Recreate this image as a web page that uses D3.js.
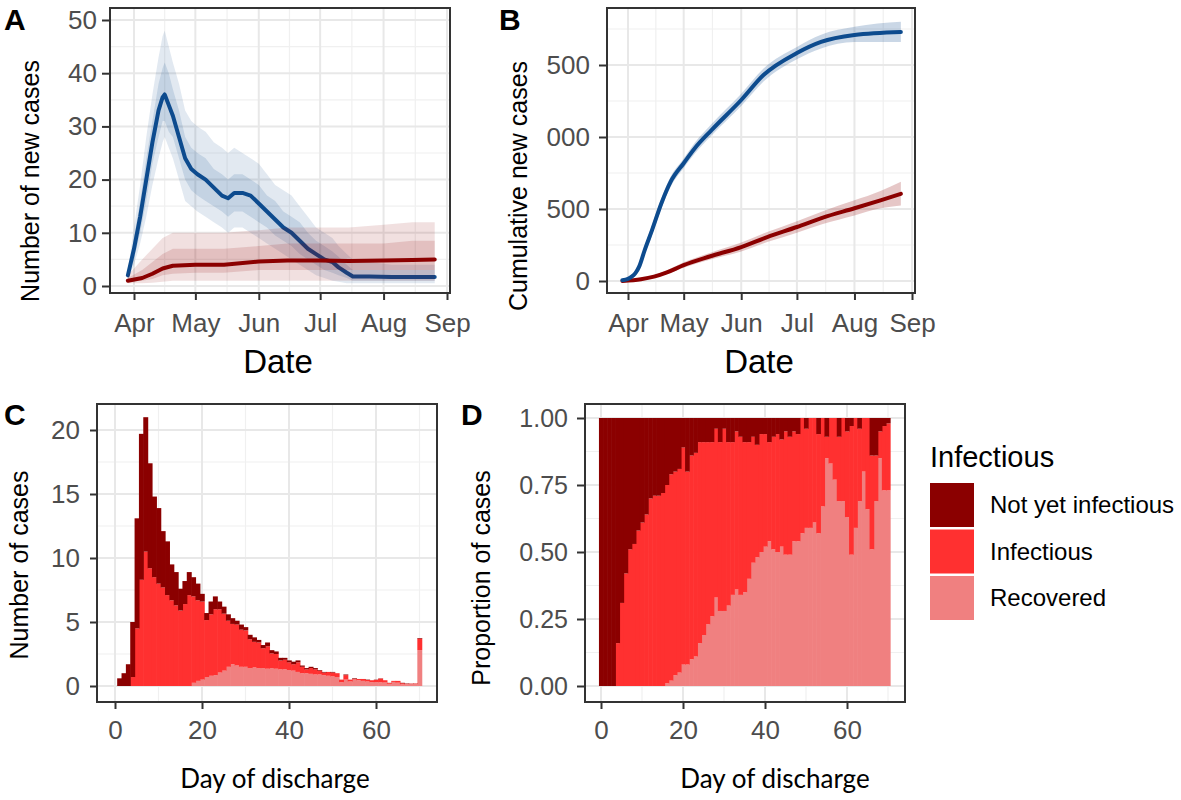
<!DOCTYPE html>
<html>
<head>
<meta charset="utf-8">
<script src="https://cdn.jsdelivr.net/npm/d3@7"></script>
<style>
  body { margin: 0; background: #fff; }
  svg { display: block; }
</style>
</head>
<body>
<svg id="fig" width="1181" height="800"></svg>
<script>
// ---- panel A : daily new cases (median + spread of simulations) ----
var aBlueDates = ["2020-03-29","2020-04-01","2020-04-04","2020-04-07","2020-04-10","2020-04-13","2020-04-15","2020-04-16","2020-04-18","2020-04-20","2020-04-23","2020-04-26","2020-04-29","2020-05-02","2020-05-06","2020-05-10","2020-05-14","2020-05-17","2020-05-20","2020-05-24","2020-05-28","2020-06-01","2020-06-05","2020-06-09","2020-06-13","2020-06-17","2020-06-21","2020-06-25","2020-06-29","2020-07-03","2020-07-07","2020-07-10","2020-07-14","2020-07-17","2020-07-25","2020-08-05","2020-08-15","2020-08-26"];
var aBlueMid = [2,7,13,20,27,33,35.5,36,34,32,28,24,22,21,20,18.5,17,16.5,17.5,17.5,17,15.5,14,12.5,11,10,8.5,7,6,5,4.5,3.5,2.5,1.8,1.8,1.7,1.7,1.7];
var aBlueHi  = [3,11,19,28,36,43,47,48,45,42,38,33,31,30,29,27,26,25,26,25,24,23,21,19,18,17,15,13,11,10,9,7.5,6,5,4.5,4,4,4];
var aBlueLo  = [1,4,8,13,19,24,27,28,26,24,20,16,15,14,13,12,11,10,11,11,10,9,8,7,6,5,4,3,2,1.5,1,0.8,0.5,0.5,0.5,0.5,0.5,0.5];
var aBlueHi2 = [2.5,9,16,24,31,38,41,42,40,37,33,28,26,25,24,22,21,20,21,21,20,19,17,16,14,13,12,10,8.5,7.5,6.5,5.5,4,3,3,3,3,3];
var aBlueLo2 = [1.5,5,10,16,23,28,31,31,29,28,24,20,18,17,16,15,14,13,14,14,13,12,11,9.5,8.5,7.5,6,5,4,3,2.5,2,1.5,1,1,1,1,1];

var aRedDates = ["2020-03-29","2020-04-05","2020-04-10","2020-04-15","2020-04-20","2020-05-01","2020-05-15","2020-06-01","2020-06-15","2020-07-01","2020-07-15","2020-08-01","2020-08-15","2020-08-26"];
var aRedMid = [1,1.5,2.3,3.3,3.8,4,4,4.6,4.8,4.8,4.7,4.8,4.9,5];
var aRedHi  = [2,5,7,9,10,10,10,10.5,11,11,11,11.5,12,12];
var aRedLo  = [0.5,0.5,0.6,0.8,1,1,1,1,1,1,1,1,1,1];
var aRedHi2 = [1.5,3,4.5,6,7,7,7,7.5,8,8,8,8,8.5,8.5];
var aRedLo2 = [0.8,1,1.3,2,2.3,2.5,2.5,3,3,3,3,3,3,3];

// ---- panel B : cumulative new cases ----
var bBlueDates = ["2020-03-29","2020-04-01","2020-04-03","2020-04-05","2020-04-07","2020-04-10","2020-04-14","2020-04-19","2020-04-24","2020-05-01","2020-05-07","2020-05-16","2020-06-01","2020-06-13","2020-07-01","2020-07-14","2020-08-01","2020-08-26"];
var bBlueMid = [5,15,30,55,100,215,355,540,690,818,922,1048,1257,1430,1583,1660,1708,1729];
var bBlueHi  = [10,25,45,75,125,245,390,575,725,850,960,1090,1300,1475,1625,1710,1765,1800];
var bBlueLo  = [2,8,18,38,78,185,320,505,655,785,885,1010,1215,1385,1540,1615,1660,1660];

var bRedDates = ["2020-03-29","2020-04-08","2020-04-15","2020-04-22","2020-05-01","2020-05-15","2020-06-01","2020-06-15","2020-07-01","2020-07-15","2020-08-01","2020-08-15","2020-08-26"];
var bRedMid = [0,12,30,60,110,170,236,305,375,440,505,560,605];
var bRedHi  = [2,18,40,75,130,195,268,340,415,485,560,625,690];
var bRedLo  = [0,7,22,48,92,148,205,270,335,395,455,505,525];

var monthTicks = ["2020-04-01","2020-05-01","2020-06-01","2020-07-01","2020-08-01","2020-09-01"];

// ---- panel C : number of cases by day of discharge (days 1..70) ----
var cDays = d3.range(1, 71);
var cNotYet = [0.6,1.0,1.7,4.3,8.6,11.4,10.5,8.2,6.3,5.9,
               4.4,4.2,2.8,2.6,1.7,1.8,1.8,1.5,1.3,0.6,
               0.55,1.0,1.0,0.6,0.55,0.5,0.45,0.3,0.4,0.25,
               0.35,0.35,0.2,0.25,0.3,0.25,0.2,0.2,0.15,0.15,
               0.2,0.15,0.1,0.1,0.1,0.1,0.05,0.05,0,0.05,
               0,0,0.05,0,0.05,0,0,0.03,0,0.02,
               0.02,0,0.01,0,0,0.03,0.03,0.01,0.01,0.05];
var cInfectious = [0,0,0,0.7,4.5,8.3,10.5,9.2,8.5,8.0,
                   7.7,7.1,6.7,6.3,5.9,6.4,7.1,6.75,6.3,6.1,
                   4.45,4.8,5.15,4.95,4.45,3.6,3.15,3.2,2.9,2.85,
                   2.25,2.0,2.0,1.55,1.75,1.15,1.15,0.7,0.75,0.6,
                   0.5,0.75,0.5,0.3,0.45,0.4,0.3,0.2,0.3,0.3,
                   0.3,0.2,0.35,0.15,0.05,0.1,0.15,0.12,0.15,0.18,
                   0.28,0.18,0.07,0.08,0.14,0.09,0.03,0.02,0.04,0.9];
var cRecovered = [0,0,0,0,0,0,0,0,0,0,
                  0,0,0,0,0,0,0,0.25,0.4,0.5,
                  0.7,0.8,0.85,1.05,1.2,1.5,1.7,1.6,1.5,1.5,
                  1.4,1.45,1.4,1.4,1.35,1.4,1.35,1.3,1.3,1.25,
                  1.2,1.1,1.0,1.0,0.95,0.9,0.9,0.85,0.8,0.75,
                  0.7,0.3,0.5,0.35,0.5,0.45,0.4,0.35,0.3,0.3,
                  0.3,0.27,0.17,0.32,0.26,0.13,0.14,0.17,0.15,2.8];

// ---- panel D : proportion of cases by day of discharge (days 0..70) ----
var dDays = d3.range(0, 71);
var dNotYet = [1,1,1,1,0.84,0.69,0.58,0.49,0.47,0.42,
               0.39,0.36,0.30,0.29,0.29,0.28,0.25,0.21,0.20,0.19,
               0.11,0.20,0.14,0.13,0.09,0.09,0.09,0.09,0.04,0.09,
               0.04,0.09,0.09,0.05,0.07,0.09,0.09,0.07,0.10,0.06,
               0.06,0.09,0.07,0.06,0.08,0.05,0.07,0.05,0.06,0,
               0.04,0,0,0.06,0,0.07,0,0,0.07,0,
               0.05,0.03,0,0.04,0,0,0.14,0.14,0.05,0.03,
               0.02];
var dInfectious = [0,0,0,0,0.16,0.31,0.42,0.51,0.53,0.58,
                   0.61,0.64,0.70,0.71,0.71,0.72,0.74,0.77,0.76,0.76,
                   0.81,0.72,0.76,0.76,0.75,0.72,0.68,0.65,0.63,0.63,
                   0.68,0.61,0.57,0.59,0.59,0.56,0.51,0.47,0.42,0.44,
                   0.42,0.37,0.42,0.44,0.40,0.46,0.44,0.41,0.40,0.43,
                   0.37,0.41,0.39,0.37,0.33,0.08,0.17,0.23,0.24,0.31,
                   0.32,0.48,0.41,0.27,0.20,0.34,0.35,0.17,0.10,0.24,
                   0.25];
var dRecovered = [0,0,0,0,0,0,0,0,0,0,
                  0,0,0,0,0,0,0.01,0.02,0.04,0.05,
                  0.08,0.08,0.10,0.11,0.16,0.19,0.23,0.26,0.33,0.28,
                  0.28,0.30,0.34,0.36,0.34,0.35,0.40,0.46,0.48,0.50,
                  0.52,0.54,0.51,0.50,0.52,0.49,0.49,0.54,0.54,0.57,
                  0.59,0.59,0.61,0.57,0.67,0.85,0.83,0.77,0.69,0.69,
                  0.63,0.49,0.59,0.69,0.80,0.66,0.51,0.69,0.85,0.73,
                  0.73];

var legendLabels = ["Not yet infectious", "Infectious", "Recovered"];

// ------------------------------------------------------------------
var FONT = "'Liberation Sans', Arial, sans-serif";
var BLUE = "#0d4b8e";
var RED = "#8b0000";
var fills = { notYet: "#8b0000", infectious: "#ff3030", recovered: "#f08080" };

var parse = d3.timeParse("%Y-%m-%d");
var svg = d3.select("#fig");

var boxA = { x0: 110, x1: 450, y0: 8, y1: 293 };
var boxB = { x0: 607, x1: 915, y0: 8, y1: 293 };
var boxC = { x0: 97, x1: 437, y0: 404, y1: 702 };
var boxD = { x0: 585, x1: 905, y0: 404, y1: 702 };

var months = monthTicks.map(parse);
var monthMids = [];
for (var i = 0; i < months.length - 1; i++) {
  monthMids.push(new Date((+months[i] + +months[i + 1]) / 2));
}

var xA = d3.scaleTime().domain([months[0], months[5]]).range([134, 447]);
var yA = d3.scaleLinear().domain([0, 50]).range([286, 20]);
var xB = d3.scaleTime().domain([months[0], months[5]]).range([628, 912]);
var yB = d3.scaleLinear().domain([0, 1500]).range([281, 65]);
var xC = d3.scaleLinear().domain([0, 60]).range([115, 376]);
var yC = d3.scaleLinear().domain([0, 20]).range([686, 430]);
var xD = d3.scaleLinear().domain([0, 60]).range([601, 847]);
var yD = d3.scaleLinear().domain([0, 1]).range([686, 418]);

function grid(box, x, y, xMajor, xMinor, yMajor, yMinor) {
  var g = svg.append("g");
  function vline(v, w, c) {
    g.append("line").attr("x1", x(v)).attr("x2", x(v)).attr("y1", box.y0).attr("y2", box.y1)
      .attr("stroke", c).attr("stroke-width", w);
  }
  function hline(v, w, c) {
    g.append("line").attr("x1", box.x0).attr("x2", box.x1).attr("y1", y(v)).attr("y2", y(v))
      .attr("stroke", c).attr("stroke-width", w);
  }
  xMinor.forEach(function (v) { vline(v, 1.2, "#f0f0f0"); });
  yMinor.forEach(function (v) { hline(v, 1.2, "#f0f0f0"); });
  xMajor.forEach(function (v) { vline(v, 2, "#e8e8e8"); });
  yMajor.forEach(function (v) { hline(v, 2, "#e8e8e8"); });
}

function frame(box) {
  svg.append("rect").attr("x", box.x0).attr("y", box.y0)
    .attr("width", box.x1 - box.x0).attr("height", box.y1 - box.y0)
    .attr("fill", "none").attr("stroke", "#333333").attr("stroke-width", 2);
}

function styleAxis(g, size) {
  g.select(".domain").remove();
  g.selectAll(".tick line").attr("stroke", "#333333").attr("stroke-width", 2);
  g.selectAll(".tick text").attr("fill", "#4d4d4d")
    .style("font-family", FONT).style("font-size", size + "px");
}

function band(dates, lo, hi, x, y, color, opacity, curve) {
  var pts = dates.map(function (d, i) { return { t: parse(d), lo: lo[i], hi: hi[i] }; });
  svg.append("path").datum(pts)
    .attr("fill", color).attr("fill-opacity", opacity)
    .attr("d", d3.area().curve(curve || d3.curveLinear).x(function (d) { return x(d.t); })
      .y0(function (d) { return y(d.lo); }).y1(function (d) { return y(d.hi); }));
}

function line(dates, vals, x, y, color, w, curve) {
  var pts = dates.map(function (d, i) { return { t: parse(d), v: vals[i] }; });
  svg.append("path").datum(pts)
    .attr("fill", "none").attr("stroke", color).attr("stroke-width", w)
    .attr("stroke-linejoin", "round").attr("stroke-linecap", "round")
    .attr("d", d3.line().curve(curve || d3.curveLinear)
      .x(function (d) { return x(d.t); }).y(function (d) { return y(d.v); }));
}

function stackBars(days, notYet, infectious, recovered, x, y) {
  var rows = days.map(function (d, i) {
    return { day: d, recovered: recovered[i], infectious: infectious[i], notYet: notYet[i] };
  });
  var layers = d3.stack().keys(["recovered", "infectious", "notYet"])(rows);
  var w = x(1) - x(0);
  svg.append("g").selectAll("g").data(layers).join("g")
    .attr("fill", function (d) { return fills[d.key]; })
    .selectAll("rect").data(function (d) { return d; }).join("rect")
    .attr("x", function (d) { return x(d.data.day) - w / 2; })
    .attr("width", w + 0.6)
    .attr("y", function (d) { return y(d[1]); })
    .attr("height", function (d) { return Math.max(0, y(d[0]) - y(d[1])); });
}

function text(x, y, str, size, opts) {
  opts = opts || {};
  var t = svg.append("text").attr("x", x).attr("y", y).text(str)
    .style("font-family", opts.font || FONT).style("font-size", size + "px")
    .attr("fill", opts.fill || "#000")
    .attr("text-anchor", opts.anchor || "start");
  if (opts.bold) t.style("font-weight", "bold");
  if (opts.rotate) t.attr("transform", "rotate(-90," + x + "," + y + ")");
  return t;
}

// ================= Panel A =================
grid(boxA, xA, yA, months, monthMids, [0, 10, 20, 30, 40, 50], [5, 15, 25, 35, 45]);
band(aBlueDates, aBlueLo, aBlueHi, xA, yA, BLUE, 0.12);
band(aBlueDates, aBlueLo2, aBlueHi2, xA, yA, BLUE, 0.14);
line(aBlueDates, aBlueMid, xA, yA, BLUE, 4);
band(aRedDates, aRedLo, aRedHi, xA, yA, RED, 0.12);
band(aRedDates, aRedLo2, aRedHi2, xA, yA, RED, 0.14);
line(aRedDates, aRedMid, xA, yA, RED, 4);
frame(boxA);
svg.append("g").attr("transform", "translate(" + boxA.x0 + ",0)")
  .call(d3.axisLeft(yA).tickValues([0, 10, 20, 30, 40, 50]).tickSize(8).tickPadding(5))
  .call(styleAxis, 26);
svg.append("g").attr("transform", "translate(0," + boxA.y1 + ")")
  .call(d3.axisBottom(xA).tickValues(months).tickFormat(d3.timeFormat("%b")).tickSize(7).tickPadding(14))
  .call(styleAxis, 26);
text(278, 373, "Date", 33, { anchor: "middle" });
text(39, 181, "Number of new cases", 25, { anchor: "middle", rotate: true });
text(4, 30, "A", 30, { bold: true });

// ================= Panel B =================
grid(boxB, xB, yB, months, monthMids, [0, 500, 1000, 1500], [250, 750, 1250, 1750]);
band(bRedDates, bRedLo, bRedHi, xB, yB, RED, 0.22, d3.curveMonotoneX);
line(bRedDates, bRedMid, xB, yB, RED, 4, d3.curveMonotoneX);
band(bBlueDates, bBlueLo, bBlueHi, xB, yB, BLUE, 0.22, d3.curveMonotoneX);
line(bBlueDates, bBlueMid, xB, yB, BLUE, 4, d3.curveMonotoneX);
frame(boxB);
svg.append("clipPath").attr("id", "clipB").append("rect")
  .attr("x", 547).attr("y", 0).attr("width", 70).attr("height", 300);
svg.append("g").attr("clip-path", "url(#clipB)")
  .append("g").attr("transform", "translate(" + boxB.x0 + ",0)")
  .call(d3.axisLeft(yB).tickValues([0, 500, 1000, 1500]).tickSize(8).tickPadding(9))
  .call(styleAxis, 26);
svg.append("g").attr("transform", "translate(0," + boxB.y1 + ")")
  .call(d3.axisBottom(xB).tickValues(months).tickFormat(d3.timeFormat("%b")).tickSize(7).tickPadding(14))
  .call(styleAxis, 26);
text(759, 373, "Date", 33, { anchor: "middle" });
text(527, 186, "Cumulative new cases", 25, { anchor: "middle", rotate: true });
text(499, 30, "B", 30, { bold: true });

// ================= Panel C =================
grid(boxC, xC, yC, [0, 20, 40, 60], [10, 30, 50, 70], [0, 5, 10, 15, 20], [2.5, 7.5, 12.5, 17.5]);
stackBars(cDays, cNotYet, cInfectious, cRecovered, xC, yC);
frame(boxC);
svg.append("g").attr("transform", "translate(" + boxC.x0 + ",0)")
  .call(d3.axisLeft(yC).tickValues([0, 5, 10, 15, 20]).tickSize(7).tickPadding(10))
  .call(styleAxis, 26);
svg.append("g").attr("transform", "translate(0," + boxC.y1 + ")")
  .call(d3.axisBottom(xC).tickValues([0, 20, 40, 60]).tickSize(7).tickPadding(12))
  .call(styleAxis, 26);
text(275, 788, "Day of discharge", 26, { anchor: "middle", font: "Lato, 'Open Sans', sans-serif" });
text(28, 565, "Number of cases", 25, { anchor: "middle", rotate: true });
text(4, 425, "C", 30, { bold: true });

// ================= Panel D =================
grid(boxD, xD, yD, [0, 20, 40, 60], [10, 30, 50, 70], [0, 0.25, 0.5, 0.75, 1], [0.125, 0.375, 0.625, 0.875]);
stackBars(dDays, dNotYet, dInfectious, dRecovered, xD, yD);
frame(boxD);
svg.append("g").attr("transform", "translate(" + boxD.x0 + ",0)")
  .call(d3.axisLeft(yD).tickValues([0, 0.25, 0.5, 0.75, 1]).tickFormat(d3.format(".2f")).tickSize(8).tickPadding(9))
  .call(styleAxis, 25);
svg.append("g").attr("transform", "translate(0," + boxD.y1 + ")")
  .call(d3.axisBottom(xD).tickValues([0, 20, 40, 60]).tickSize(7).tickPadding(12))
  .call(styleAxis, 26);
text(775, 788, "Day of discharge", 26, { anchor: "middle", font: "Lato, 'Open Sans', sans-serif" });
text(490, 578, "Proportion of cases", 25, { anchor: "middle", rotate: true });
text(461, 425, "D", 30, { bold: true });

// legend
var legendKeys = ["notYet", "infectious", "recovered"];
text(930, 467, "Infectious", 29);
var lg = svg.append("g").attr("transform", "translate(930,483)");
lg.selectAll("rect").data(legendKeys).join("rect")
  .attr("x", 0).attr("y", function (d, i) { return i * 46.5; })
  .attr("width", 44).attr("height", 44)
  .attr("fill", function (d) { return fills[d]; });
lg.selectAll("text").data(legendLabels).join("text")
  .attr("x", 60).attr("y", function (d, i) { return 22 + i * 46.5; })
  .attr("dy", "0.35em")
  .style("font-family", FONT).style("font-size", "24px")
  .text(function (d) { return d; });
</script>
</body>
</html>
